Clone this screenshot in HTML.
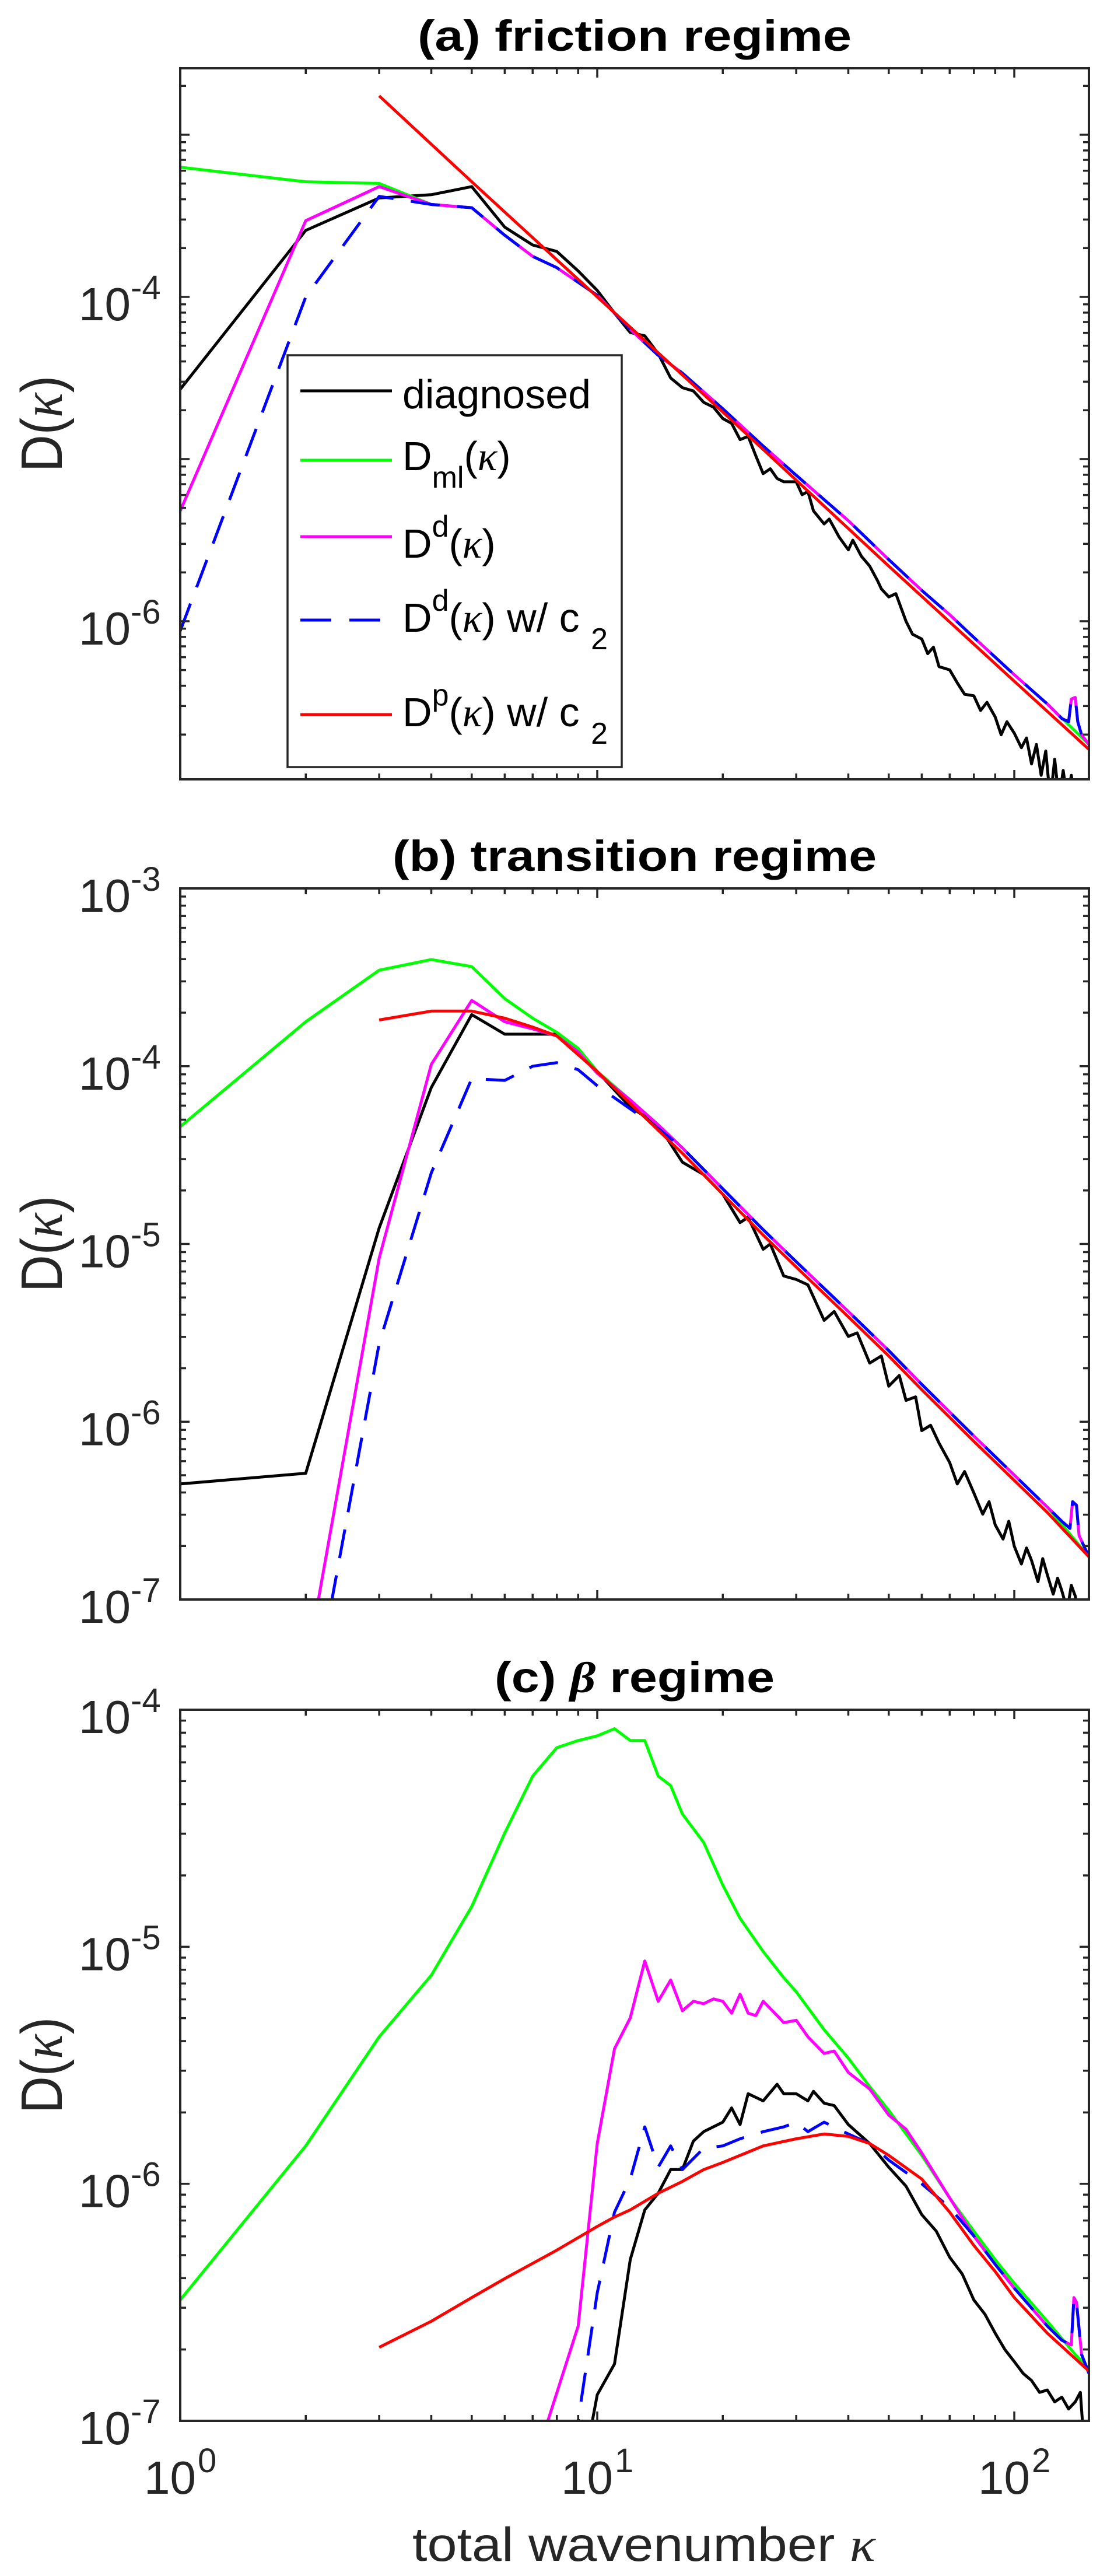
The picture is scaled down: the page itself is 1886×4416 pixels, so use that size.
<!DOCTYPE html>
<html><head><meta charset="utf-8"><style>
html,body{margin:0;padding:0;background:#fff;}
svg{display:block;font-family:"Liberation Sans",Arial,sans-serif;}
</style></head><body>
<svg id="fig" width="1886" height="4416" viewBox="0 0 1886 4416" xmlns="http://www.w3.org/2000/svg"></svg>
<script>
// ===== data (log10 of D) =====
// panel (a) friction regime
const aBlackK = [1,2,3,4,5,6,7,8,9,10,11,12,13,14,15,16,17,18,19,20,21,22,23,24,25,26,27,28,30,31,32,33,35,36,38,40,41,43,45,47,48,50,52,55,57,60,62,64,66,70,73,76,80,83,86,90,93,96,100,104,107,110,113,116,119,122,125,128,131,134,137,140,143,146];
const aBlackV = [-4.57,-3.59,-3.39,-3.37,-3.32,-3.57,-3.68,-3.72,-3.84,-3.96,-4.10,-4.22,-4.24,-4.35,-4.50,-4.56,-4.58,-4.65,-4.68,-4.75,-4.78,-4.88,-4.86,-4.98,-5.09,-5.06,-5.12,-5.14,-5.14,-5.22,-5.20,-5.32,-5.40,-5.37,-5.48,-5.56,-5.50,-5.60,-5.66,-5.75,-5.80,-5.85,-5.83,-6.00,-6.08,-6.11,-6.20,-6.16,-6.28,-6.30,-6.38,-6.45,-6.46,-6.55,-6.50,-6.59,-6.70,-6.62,-6.69,-6.78,-6.72,-6.88,-6.76,-6.95,-6.80,-7.10,-6.85,-7.10,-6.92,-7.10,-6.95,-7.10,-6.98,-7.10];
const aGreenK = [1,2,3,4,5,6,7,8,9,10,12,14,16,20,25,30,40,50,60,70,80,100,120,151];
const aGreenV = [-3.20,-3.29,-3.30,-3.43,-3.45,-3.62,-3.75,-3.82,-3.91,-3.99,-4.20,-4.36,-4.47,-4.69,-4.92,-5.10,-5.38,-5.62,-5.81,-5.96,-6.10,-6.33,-6.51,-6.76];
const aMagK = [1,2,3,4,5,6,7,8,9,10,12,14,16,20,25,30,40,50,60,70,80,100,120,130,135,137,140,142,145,151];
const aMagV = [-5.32,-3.53,-3.32,-3.43,-3.45,-3.62,-3.75,-3.82,-3.91,-3.99,-4.20,-4.36,-4.47,-4.69,-4.92,-5.10,-5.38,-5.62,-5.81,-5.96,-6.10,-6.33,-6.51,-6.60,-6.62,-6.48,-6.47,-6.62,-6.70,-6.76];
const aBlueK = [1,2,3,4,5,6,7,8,9,10,12,14,16,20,25,30,40,50,60,70,80,100,120,130,135,137,140,142,145,151];
const aBlueV = [-6.06,-4.00,-3.38,-3.43,-3.45,-3.62,-3.75,-3.82,-3.91,-3.99,-4.20,-4.36,-4.47,-4.69,-4.92,-5.10,-5.38,-5.62,-5.81,-5.96,-6.10,-6.33,-6.51,-6.60,-6.62,-6.48,-6.47,-6.62,-6.70,-6.76];
const aRedK = [3,5,10,20,50,100,151];
const aRedV = [-2.76,-3.29,-4.00,-4.71,-5.66,-6.37,-6.79];

// panel (b) transition regime
const bBlackK = [1,2,3,4,5,6,7,8,9,10,12,14,16,18,20,22,23,25,26,28,30,32,35,37,40,42,45,48,50,53,55,58,60,63,66,70,73,76,80,84,87,90,94,97,100,104,107,110,114,117,120,124,127,130,134,137,140,143,146];
const bBlackV = [-6.35,-6.29,-4.91,-4.12,-3.71,-3.82,-3.82,-3.82,-3.90,-4.03,-4.23,-4.33,-4.54,-4.61,-4.72,-4.88,-4.85,-5.03,-5.00,-5.18,-5.20,-5.23,-5.43,-5.38,-5.52,-5.50,-5.67,-5.63,-5.80,-5.74,-5.88,-5.86,-6.05,-6.02,-6.12,-6.23,-6.35,-6.28,-6.40,-6.52,-6.45,-6.58,-6.66,-6.56,-6.70,-6.80,-6.71,-6.78,-6.90,-6.77,-6.86,-6.97,-6.88,-6.95,-7.06,-6.92,-6.98,-7.10,-7.02];
const bGreenK = [1,2,3,4,5,6,7,8,9,10,12,14,16,20,25,30,40,50,60,80,100,120,151];
const bGreenV = [-4.34,-3.75,-3.46,-3.40,-3.44,-3.62,-3.73,-3.81,-3.90,-4.03,-4.19,-4.33,-4.46,-4.69,-4.92,-5.10,-5.38,-5.60,-5.79,-6.08,-6.30,-6.48,-6.76];
const bMagK = [2,3,4,5,6,7,8,9,10,12,14,16,20,25,30,40,50,60,80,100,120,130,136,138,141,143,151];
const bMagV = [-7.40,-5.08,-3.99,-3.63,-3.75,-3.79,-3.83,-3.92,-4.04,-4.19,-4.33,-4.46,-4.69,-4.92,-5.10,-5.38,-5.60,-5.79,-6.08,-6.30,-6.48,-6.56,-6.60,-6.45,-6.47,-6.64,-6.76];
const bBlueK = [2,3,4,5,6,7,8,9,10,12,14,16,20,25,30,40,50,60,80,100,120,130,136,138,141,143,151];
const bBlueV = [-7.80,-5.56,-4.60,-4.07,-4.08,-4.00,-3.98,-4.02,-4.11,-4.24,-4.35,-4.46,-4.69,-4.92,-5.10,-5.38,-5.60,-5.79,-6.08,-6.30,-6.48,-6.56,-6.60,-6.45,-6.47,-6.64,-6.76];
const bRedK = [3,4,5,6,7,8,10,12,14,16,20,25,30,40,50,60,80,100,120,151];
const bRedV = [-3.74,-3.69,-3.69,-3.73,-3.78,-3.83,-4.03,-4.21,-4.36,-4.49,-4.72,-4.95,-5.13,-5.41,-5.63,-5.82,-6.11,-6.33,-6.51,-6.76];

// panel (c) beta regime
const cGreenK = [1,2,3,4,5,6,7,8,9,10,11,12,13,14,15,16,18,20,22,25,28,30,35,40,45,50,60,70,80,90,100,120,140,151];
const cGreenV = [-6.49,-5.84,-5.38,-5.12,-4.83,-4.52,-4.28,-4.16,-4.13,-4.11,-4.08,-4.13,-4.13,-4.28,-4.32,-4.44,-4.56,-4.74,-4.88,-5.02,-5.13,-5.19,-5.35,-5.47,-5.59,-5.69,-5.88,-6.06,-6.20,-6.32,-6.42,-6.58,-6.72,-6.78];
const cMagK = [7,9,10,11,12,13,14,15,16,17,18,19,20,21,22,23,24,25,27,28,30,32,35,37,40,45,50,55,60,70,80,90,100,120,130,137,139,141,145,151];
const cMagV = [-7.20,-6.60,-5.83,-5.43,-5.30,-5.06,-5.23,-5.14,-5.27,-5.23,-5.24,-5.22,-5.23,-5.28,-5.20,-5.28,-5.29,-5.23,-5.29,-5.32,-5.31,-5.38,-5.45,-5.44,-5.53,-5.60,-5.71,-5.77,-5.87,-6.06,-6.22,-6.34,-6.44,-6.60,-6.66,-6.68,-6.48,-6.50,-6.72,-6.80];
const cBlueK = [8,9,10,11,12,13,14,15,16,18,20,22,25,28,30,32,35,40,45,50,60,70,80,90,100,120,130,137,139,141,145,151];
const cBlueV = [-7.70,-7.00,-6.46,-6.12,-5.98,-5.76,-5.93,-5.84,-5.94,-5.85,-5.84,-5.81,-5.78,-5.76,-5.74,-5.78,-5.74,-5.79,-5.83,-5.90,-6.00,-6.10,-6.22,-6.34,-6.44,-6.60,-6.66,-6.68,-6.48,-6.50,-6.72,-6.80];
const cBlackK = [9.5,10,11,12,13,14,15,16,17,18,20,21,22,23,25,27,28,30,32,33,35,37,40,45,50,55,60,65,70,75,80,85,90,95,100,105,110,115,120,125,130,135,140,144,147];
const cBlackV = [-7.10,-6.89,-6.76,-6.32,-6.11,-6.04,-5.94,-5.94,-5.82,-5.78,-5.74,-5.68,-5.75,-5.62,-5.65,-5.58,-5.62,-5.62,-5.65,-5.61,-5.66,-5.67,-5.75,-5.83,-5.93,-6.01,-6.13,-6.20,-6.31,-6.38,-6.49,-6.55,-6.63,-6.70,-6.75,-6.80,-6.83,-6.88,-6.87,-6.92,-6.90,-6.95,-6.92,-6.88,-7.10];
const cRedK = [3,4,5,6,8,10,11,12,14,16,18,20,25,30,35,40,45,50,60,70,80,90,100,120,151];
const cRedV = [-6.69,-6.58,-6.48,-6.40,-6.28,-6.18,-6.14,-6.11,-6.04,-5.99,-5.94,-5.91,-5.84,-5.81,-5.79,-5.80,-5.83,-5.88,-5.98,-6.12,-6.26,-6.37,-6.48,-6.63,-6.79];

// ===== rendering =====
const NS = "http://www.w3.org/2000/svg";
const svg = document.getElementById('fig');
const AX = "#262626";
const X0 = 309, X1 = 1867, KMIN = 1, KMAX = 151;
function X(k){ return X0 + (X1 - X0) * (Math.log10(k) - Math.log10(KMIN)) / (Math.log10(KMAX) - Math.log10(KMIN)); }
function mk(tag, attrs, parent){
  const el = document.createElementNS(NS, tag);
  for (const a in attrs) el.setAttribute(a, attrs[a]);
  (parent || svg).appendChild(el);
  return el;
}

const panels = [
  {id:'a', top:117, ymax:-2.59, ymin:-6.975, labels:[-4,-6], title:'(a) friction regime', tlen:744,
   series:[[aBlackK,aBlackV,'#000000',0,'black'],[aGreenK,aGreenV,'#00ff00',0,'green'],[aMagK,aMagV,'#ff00ff',0,'magenta'],[aBlueK,aBlueV,'#0000ff',1,'blue'],[aRedK,aRedV,'#ff0000',0,'red']]},
  {id:'b', top:1523, ymax:-3, ymin:-7, labels:[-3,-4,-5,-6,-7], title:'(b) transition regime', tlen:830,
   series:[[bBlackK,bBlackV,'#000000',0,'black'],[bGreenK,bGreenV,'#00ff00',0,'green'],[bMagK,bMagV,'#ff00ff',0,'magenta'],[bBlueK,bBlueV,'#0000ff',1,'blue'],[bRedK,bRedV,'#ff0000',0,'red']]},
  {id:'c', top:2931, ymax:-4, ymin:-7, labels:[-4,-5,-6,-7], title:'(c) ', tlen:0,
   series:[[cBlackK,cBlackV,'#000000',0,'black'],[cGreenK,cGreenV,'#00ff00',0,'green'],[cMagK,cMagV,'#ff00ff',0,'magenta'],[cBlueK,cBlueV,'#0000ff',1,'blue'],[cRedK,cRedV,'#ff0000',0,'red']]}
];
const H = 1219;

panels.forEach(p => {
  const Y = v => p.top + (p.ymax - v) * H / (p.ymax - p.ymin);
  const bottom = p.top + H;
  const g = mk('g', {});
  
  
  const cp = mk('clipPath', {id:'clip' + p.id}, g);
  mk('rect', {x:X0, y:p.top, width:X1 - X0, height:H}, cp);

  const sg = mk('g', {'clip-path':'url(#clip' + p.id + ')'}, g);
  p.series.forEach(s => {
    const [ks, vs, col, dashed, nm] = s;
    const d = ks.map((k, i) => (i ? 'L' : 'M') + X(k).toFixed(1) + ',' + Y(vs[i]).toFixed(1)).join(' ');
    const path = mk('path', {d:d, fill:'none', stroke:col, 'stroke-width':5, 'stroke-linejoin':'round', 'stroke-dasharray': dashed ? '50,30' : 'none'}, sg);
    
    
  });

  const tg = mk('g', {stroke:AX, 'stroke-width':3.5}, g);
  for (let dec = 0; dec <= 2; dec++) {
    for (let m = 1; m <= 9; m++) {
      const k = m * Math.pow(10, dec);
      if (k > KMAX) break;
      const x = X(k), len = m === 1 ? 16 : 10;
      mk('line', {x1:x, x2:x, y1:bottom, y2:bottom - len}, tg);
      mk('line', {x1:x, x2:x, y1:p.top, y2:p.top + len}, tg);
    }
  }
  for (let e = Math.floor(p.ymin); e <= Math.ceil(p.ymax); e++) {
    for (let m = 1; m <= 9; m++) {
      const v = e + Math.log10(m);
      if (v < p.ymin - 0.001 || v > p.ymax + 0.001) continue;
      const y = Y(v), len = m === 1 ? 16 : 10;
      mk('line', {x1:X0, x2:X0 + len, y1:y, y2:y}, tg);
      mk('line', {x1:X1, x2:X1 - len, y1:y, y2:y}, tg);
    }
  }
  const box = mk('rect', {x:X0, y:p.top, width:X1 - X0, height:H, fill:'none', stroke:AX, 'stroke-width':4}, g);
  
  

  p.labels.forEach(e => {
    const y = Y(e);
    const t1 = mk('text', {x:224, y:y + 40, 'font-size':80, fill:AX, 'text-anchor':'end'}, g);
    t1.textContent = '10';
    
    
    const t2 = mk('text', {x:224, y:y + 4, 'font-size':58, fill:AX}, g);
    t2.textContent = '-' + Math.abs(e);
    
    
  });

  const cy = p.top + H / 2;
  const yl = mk('text', {x:0, y:0, 'font-size':100, fill:AX, 'text-anchor':'middle', transform:'translate(106,' + cy + ') rotate(-90)', textLength:165, lengthAdjust:'spacingAndGlyphs'}, g);
  yl.innerHTML = 'D(<tspan font-family="Liberation Serif" font-style="italic">κ</tspan>)';
  
  

  const tt = mk('text', {x:1088, y:p.top - 30, 'font-size':74, 'font-weight':'bold', fill:'#000', 'text-anchor':'middle'}, g);
  if (p.id === 'c') {
    tt.innerHTML = '(c) <tspan font-family="Liberation Serif" font-style="italic">β</tspan> regime';
    tt.setAttribute('textLength', 480);
    tt.setAttribute('lengthAdjust', 'spacingAndGlyphs');
  } else {
    tt.textContent = p.title;
    tt.setAttribute('textLength', p.tlen);
    tt.setAttribute('lengthAdjust', 'spacingAndGlyphs');
  }
  
  
});

[0, 1, 2].forEach(e => {
  const x = X(Math.pow(10, e));
  const t1 = mk('text', {x:x + 27, y:4275, 'font-size':80, fill:AX, 'text-anchor':'end'});
  t1.textContent = '10';
  
  
  const t2 = mk('text', {x:x + 30, y:4238, 'font-size':58, fill:AX});
  t2.textContent = String(e);
  
  
});
const xl = mk('text', {x:707, y:4390, 'font-size':82, fill:AX, textLength:794, lengthAdjust:'spacingAndGlyphs'});
xl.innerHTML = 'total wavenumber  <tspan font-family="Liberation Serif" font-style="italic">κ</tspan>';



const lg = mk('g', {});


mk('rect', {x:493, y:609, width:573, height:706, fill:'#fff', stroke:AX, 'stroke-width':3.5}, lg);
const legItems = [
  [670, 700, '#000000', 0, 'diagnosed'],
  [789, 806, '#00ff00', 0, 'D<tspan font-size="52" dy="30">ml</tspan><tspan dy="-30">(</tspan><tspan font-family="Liberation Serif" font-style="italic">κ</tspan>)'],
  [920, 956, '#ff00ff', 0, 'D<tspan font-size="52" dy="-36">d</tspan><tspan dy="36">(</tspan><tspan font-family="Liberation Serif" font-style="italic">κ</tspan>)'],
  [1063, 1083, '#0000ff', 1, 'D<tspan font-size="52" dy="-36">d</tspan><tspan dy="36">(</tspan><tspan font-family="Liberation Serif" font-style="italic">κ</tspan>) w/ c <tspan font-size="52" dy="30">2</tspan>'],
  [1225, 1245, '#ff0000', 0, 'D<tspan font-size="52" dy="-36">p</tspan><tspan dy="36">(</tspan><tspan font-family="Liberation Serif" font-style="italic">κ</tspan>) w/ c <tspan font-size="52" dy="30">2</tspan>']
];
legItems.forEach((it, i) => {
  const [ly, ty, col, dashed, label] = it;
  const ln = mk('line', {x1:515, x2:672, y1:ly, y2:ly, stroke:col, 'stroke-width':5, 'stroke-dasharray': dashed ? '53,31' : 'none'}, lg);
  
  
  const t = mk('text', {x:690, y:ty, 'font-size':70, fill:'#000'}, lg);
  t.innerHTML = label;
  
  
});
</script>
</body></html>
